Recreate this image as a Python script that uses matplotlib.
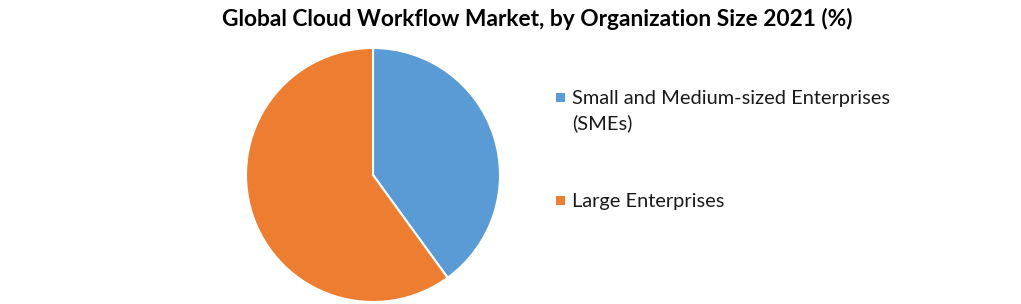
import matplotlib
matplotlib.use("Agg")
import matplotlib.pyplot as plt
from matplotlib.patches import Rectangle

categories = ["Small and Medium-sized Enterprises\n(SMEs)", "Large Enterprises"]
values = [40, 60]
colors = ["#5B9BD5", "#ED7D31"]
title = "Global Cloud Workflow Market, by Organization Size 2021 (%)"

plt.rcParams['font.family'] = ['Lato', 'DejaVu Sans']

W, H = 1021, 304
fig = plt.figure(figsize=(W / 100, H / 100), dpi=100)
fig.patch.set_facecolor('white')

cx, cy, r = 373, 175, 127
ax = fig.add_axes([(cx - r) / W, (H - cy - r) / H, 2 * r / W, 2 * r / H])
ax.pie(values, colors=colors, startangle=90, counterclock=False,
       wedgeprops=dict(edgecolor='white', linewidth=1.5), radius=1)
ax.set_xlim(-1, 1)
ax.set_ylim(-1, 1)
ax.set_aspect('auto')
ax.axis('off')

fig.text(537 / W, 1 - 19 / H, title, ha='center', va='center',
         fontsize=16.4, fontweight='bold', color='black')

# legend drawn manually (marker aligned with the first text line)
leg_y = [97, 200]
sq = 9
for lab, col, y in zip(categories, colors, leg_y):
    fig.patches.append(Rectangle(((556) / W, (H - y - sq / 2) / H), sq / W, sq / H,
                                 transform=fig.transFigure, facecolor=col,
                                 edgecolor='none'))
    fig.text(572 / W, 1 - (y - 7) / H, lab, ha='left', va='top',
             fontsize=14.4, color='#1a1a1a', linespacing=1.5)

fig.savefig("out.png", dpi=100, facecolor='white')
